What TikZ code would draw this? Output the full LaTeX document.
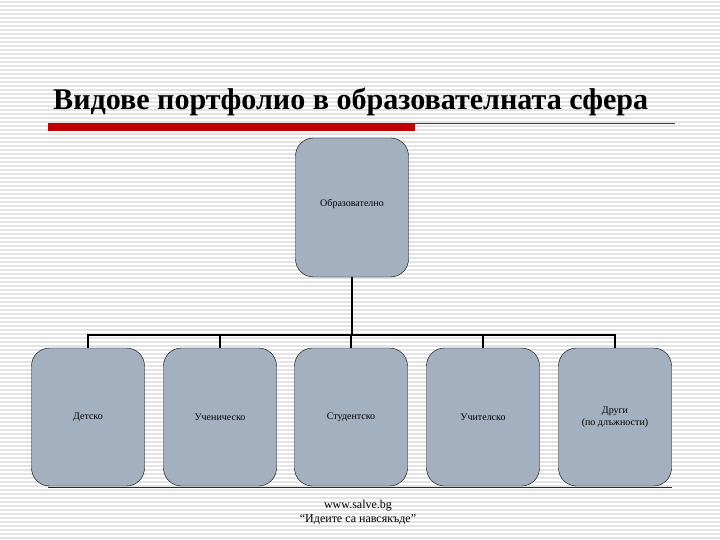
\documentclass[tikz,border=0pt]{standalone}
\usepackage{fontspec}
\setmainfont{Liberation Serif}
\definecolor{boxfill}{HTML}{A3B0BF}
\definecolor{redbar}{HTML}{C00000}
\begin{document}
\begin{tikzpicture}[x=1pt,y=-1pt,
  bx/.style={draw=black,fill=boxfill,rounded corners=18pt,minimum width=113pt,minimum height=138pt,font=\fontsize{10}{12}\selectfont,align=center,inner sep=0pt},
  conn/.style={line width=2.2pt}]
\useasboundingbox (0,0) rectangle (720,540);
\fill[white] (0,0) rectangle (720,540);
\foreach \y in {2,6,...,538} \draw[black!11,line width=1.2pt] (0,\y) -- (720,\y);
\node[anchor=base west,font=\fontsize{29}{32}\selectfont,inner sep=0pt] (title) at (53,110) {\resizebox{595pt}{!}{\textbf{Видове портфолио в образователната сфера}}};
\fill[redbar] (48,123) rectangle (415,131);
\draw[redbar,line width=0.8pt] (415,123.5) -- (675,123.5);
\draw[redbar!70!black,line width=1pt] (48,487) -- (672,487);
\node[bx,minimum height=139pt] (top) at (352,207.5) {\raisebox{10pt}{Образователно}};
\node[bx] (c1) at (88,417) {Детско};
\node[bx] (c2) at (220,417) {Ученическо};
\node[bx] (c3) at (351,417) {Студентско};
\node[bx] (c4) at (483,417) {Учителско};
\node[bx] (c5) at (615,417) {Други\\(по длъжности)};
\coordinate (j) at (352,335);
\draw[conn] (top.south) -- (j);
\draw[conn] (c1.north) |- (j) -| (c5.north);
\draw[conn] (c2.north) -- (c2.north |- j);
\draw[conn] (c3.north) -- (c3.north |- j);
\draw[conn] (c4.north) -- (c4.north |- j);
\node[font=\fontsize{12}{14}\selectfont,align=center,inner sep=0pt] (foot) at (358,512) {www.salve.bg\\“Идеите са навсякъде”};
\end{tikzpicture}
\end{document}
